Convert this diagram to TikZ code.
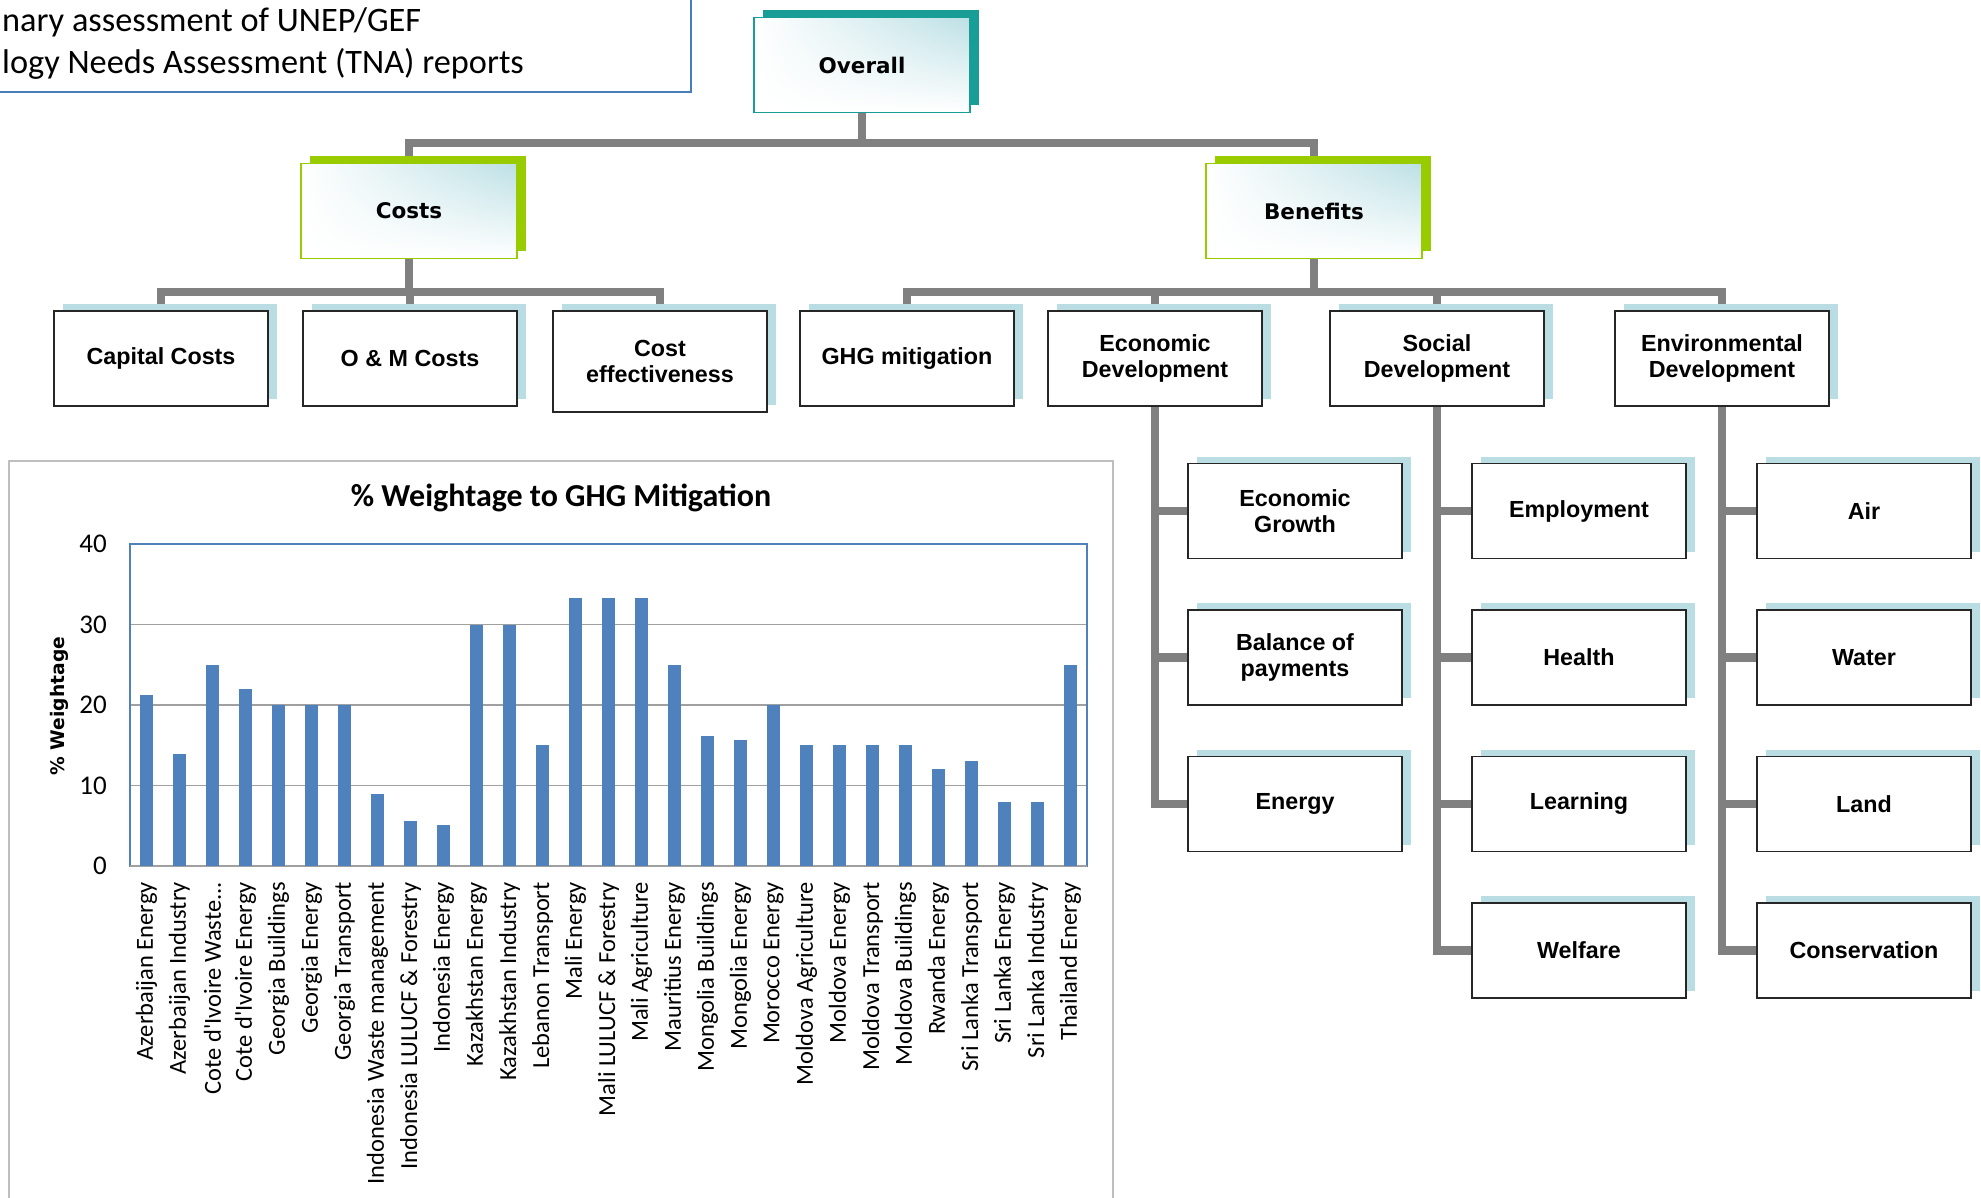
\documentclass[tikz,border=0pt]{standalone}
\usepackage{fontspec}
\setmainfont{Liberation Sans}
\newfontfamily\boxfont{Liberation Sans}
\newfontfamily\headfont{DejaVu Sans}
\newfontfamily\chartfont{Carlito}
\usetikzlibrary{shadows,shadings,backgrounds}

\definecolor{linegray}{RGB}{128,128,128}
\definecolor{shadeblue}{RGB}{186,221,227}
\definecolor{tealdark}{RGB}{24,158,150}
\definecolor{leafgreen}{RGB}{153,204,0}
\definecolor{fadeblue}{RGB}{188,224,229}
\definecolor{barblue}{RGB}{79,129,189}
\definecolor{framegray}{RGB}{190,190,190}
\definecolor{gridgray}{RGB}{160,160,160}
\definecolor{noteblue}{RGB}{74,126,187}

\newcommand\wastelabel{Cote d'Ivoire Waste...}

\tikzset{
  conn/.style={draw=linegray, line width=8.5pt},
  headbox/.style={rectangle, minimum width=216pt, minimum height=95pt, inner sep=0pt,
    font=\headfont\bfseries\fontsize{21.5}{24}\selectfont,
    upper left=white, lower left=white, lower right=white, upper right=fadeblue,
    line width=1.3pt},
  overallbox/.style={headbox, draw=tealdark,
    general shadow={shadow xshift=9pt, shadow yshift=7pt, fill=tealdark}},
  greenbox/.style={headbox, draw=leafgreen,
    general shadow={shadow xshift=9pt, shadow yshift=7pt, fill=leafgreen}},
  itembox/.style={rectangle, draw=black!85, line width=1.6pt, fill=white,
    minimum width=214pt, minimum height=95pt, inner sep=0pt, align=center,
    font=\boxfont\bfseries\fontsize{23.3}{26}\selectfont,
    general shadow={shadow xshift=9pt, shadow yshift=7pt, fill=shadeblue}},
  notetext/.style={anchor=base west, inner sep=0pt, font=\chartfont\fontsize{34.3}{40}\selectfont},
  ticklabel/.style={anchor=east, inner sep=0pt, font=\chartfont\fontsize{27}{30}\selectfont},
  catlabel/.style={anchor=east, rotate=90, inner sep=0pt, font=\chartfont\fontsize{24.5}{28}\selectfont},
}

\begin{document}
\begin{tikzpicture}[x=1pt, y=-1pt]
\useasboundingbox (0,0) rectangle (1981,1198);
\clip (0,0) rectangle (1981,1198);

% ---------- note box (top left) ----------
\draw[noteblue, line width=1.5pt] (-10,-10) rectangle (691,92);
\node[notetext] (note1) at (2,32) {nary assessment of UNEP/GEF};
\node[notetext] (note2) at (2,74) {logy Needs Assessment (TNA) reports};

% ---------- hierarchy ----------
\node[overallbox] (ov) at (862,65) {Overall};
\node[greenbox] (costs) at (409,211) {Costs};
\node[greenbox] (ben) at (1314,211) {Benefits};

\node[itembox] (cap) at (161,358.5) {Capital Costs};
\node[itembox] (om)  at (410,358.5) {O \& M Costs};
\node[itembox, minimum height=101pt] (ce) at (660,361.5) {Cost\\effectiveness};
\node[itembox] (ghg) at (907,358.5) {GHG mitigation};
\node[itembox] (eco) at (1155,358.5) {Economic\\Development};
\node[itembox] (soc) at (1437,358.5) {Social\\Development};
\node[itembox] (env) at (1722,358.5) {Environmental\\Development};

\node[itembox] (eg1) at (1295,511) {Economic\\Growth};
\node[itembox] (eg2) at (1295,657.5) {Balance of\\payments};
\node[itembox] (eg3) at (1295,804) {Energy};

\node[itembox] (sd1) at (1579,511) {Employment};
\node[itembox] (sd2) at (1579,657.5) {Health};
\node[itembox] (sd3) at (1579,804) {Learning};
\node[itembox] (sd4) at (1579,950.5) {Welfare};

\node[itembox] (ed1) at (1864,511) {Air};
\node[itembox] (ed2) at (1864,657.5) {Water};
\node[itembox] (ed3) at (1864,804) {Land};
\node[itembox] (ed4) at (1864,950.5) {Conservation};

\coordinate (j0) at (862,143);
\coordinate (j1) at (409,292);
\coordinate (j2) at (1314,292);

\begin{scope}[on background layer]
  \fill[white] (0,0) rectangle (1981,1198);
  % top level
  \draw[conn] (ov.south) -- (j0);
  \draw[conn] (costs.north) |- (j0) -| (ben.north);
  % costs branch
  \draw[conn] (costs.south) -- (j1);
  \draw[conn] (cap.north) |- (j1) -| (ce.north);
  \draw[conn] (om.north) -- (om.north |- j1);
  % benefits branch
  \draw[conn] (ben.south) -- (j2);
  \draw[conn] (ghg.north) |- (j2) -| (env.north);
  \draw[conn] (eco.north) -- (eco.north |- j2);
  \draw[conn] (soc.north) -- (soc.north |- j2);
  % economic development
  \draw[conn] (eco.south) |- (eg3.west);
  \draw[conn] (eg1.west) -- (eg1.west -| eco.south);
  \draw[conn] (eg2.west) -- (eg2.west -| eco.south);
  % social development
  \draw[conn] (soc.south) |- (sd4.west);
  \draw[conn] (sd1.west) -- (sd1.west -| soc.south);
  \draw[conn] (sd2.west) -- (sd2.west -| soc.south);
  \draw[conn] (sd3.west) -- (sd3.west -| soc.south);
  % environmental development
  \draw[conn] (env.south) |- (ed4.west);
  \draw[conn] (ed1.west) -- (ed1.west -| env.south);
  \draw[conn] (ed2.west) -- (ed2.west -| env.south);
  \draw[conn] (ed3.west) -- (ed3.west -| env.south);
\end{scope}

% ---------- bar chart ----------
\draw[framegray, line width=1.5pt] (9,461) rectangle (1113,1215);
\node[font=\chartfont\bfseries\fontsize{32}{36}\selectfont] (ctitle) at (561,498) {\% Weightage to GHG Mitigation};
\node[rotate=90, font=\headfont\bfseries\fontsize{18.7}{22}\selectfont] (ytitle) at (59,706) {\% Weightage};

% grid lines
\foreach \g in {10,20,30} {
  \draw[gridgray, line width=1.5pt] (130,{866-8.05*\g}) -- (1087,{866-8.05*\g});
}
\draw[barblue, line width=1.2pt] (130,544) rectangle (1087,866);
\draw[gridgray, line width=1.5pt] (130,866) -- (1087,866);
\foreach \g in {0,10,20,30,40} {
  \node[ticklabel] (tick\g) at (107,{866-8.05*\g}) {\g};
}

% bars
\foreach \v [count=\i] in {21.3,13.9,25,22,20,20,20,9,5.6,5.1,30,30,15,33.3,33.3,33.3,25,16.1,15.6,20,15,15,15,15,12,13.1,8,8,25} {
  \fill[barblue] ({130+33*(\i-0.5)-6.3},866) rectangle ({130+33*(\i-0.5)+6.3},{866-8.05*\v});
}

% category labels
\foreach \t [count=\i] in {Azerbaijan Energy, Azerbaijan Industry, \wastelabel, Cote d'Ivoire Energy, Georgia Buildings, Georgia Energy, Georgia Transport, Indonesia Waste management, Indonesia LULUCF \& Forestry, Indonesia Energy, Kazakhstan Energy, Kazakhstan Industry, Lebanon Transport, Mali Energy, Mali LULUCF \& Forestry, Mali Agriculture, Mauritius Energy, Mongolia Buildings, Mongolia Energy, Morocco Energy, Moldova Agriculture, Moldova Energy, Moldova Transport, Moldova Buildings, Rwanda Energy, Sri Lanka Transport, Sri Lanka Energy, Sri Lanka Industry, Thailand Energy} {
  \node[catlabel] (cat\i) at ({130+33*(\i-0.5)},882) {\t};
}
\end{tikzpicture}
\end{document}
